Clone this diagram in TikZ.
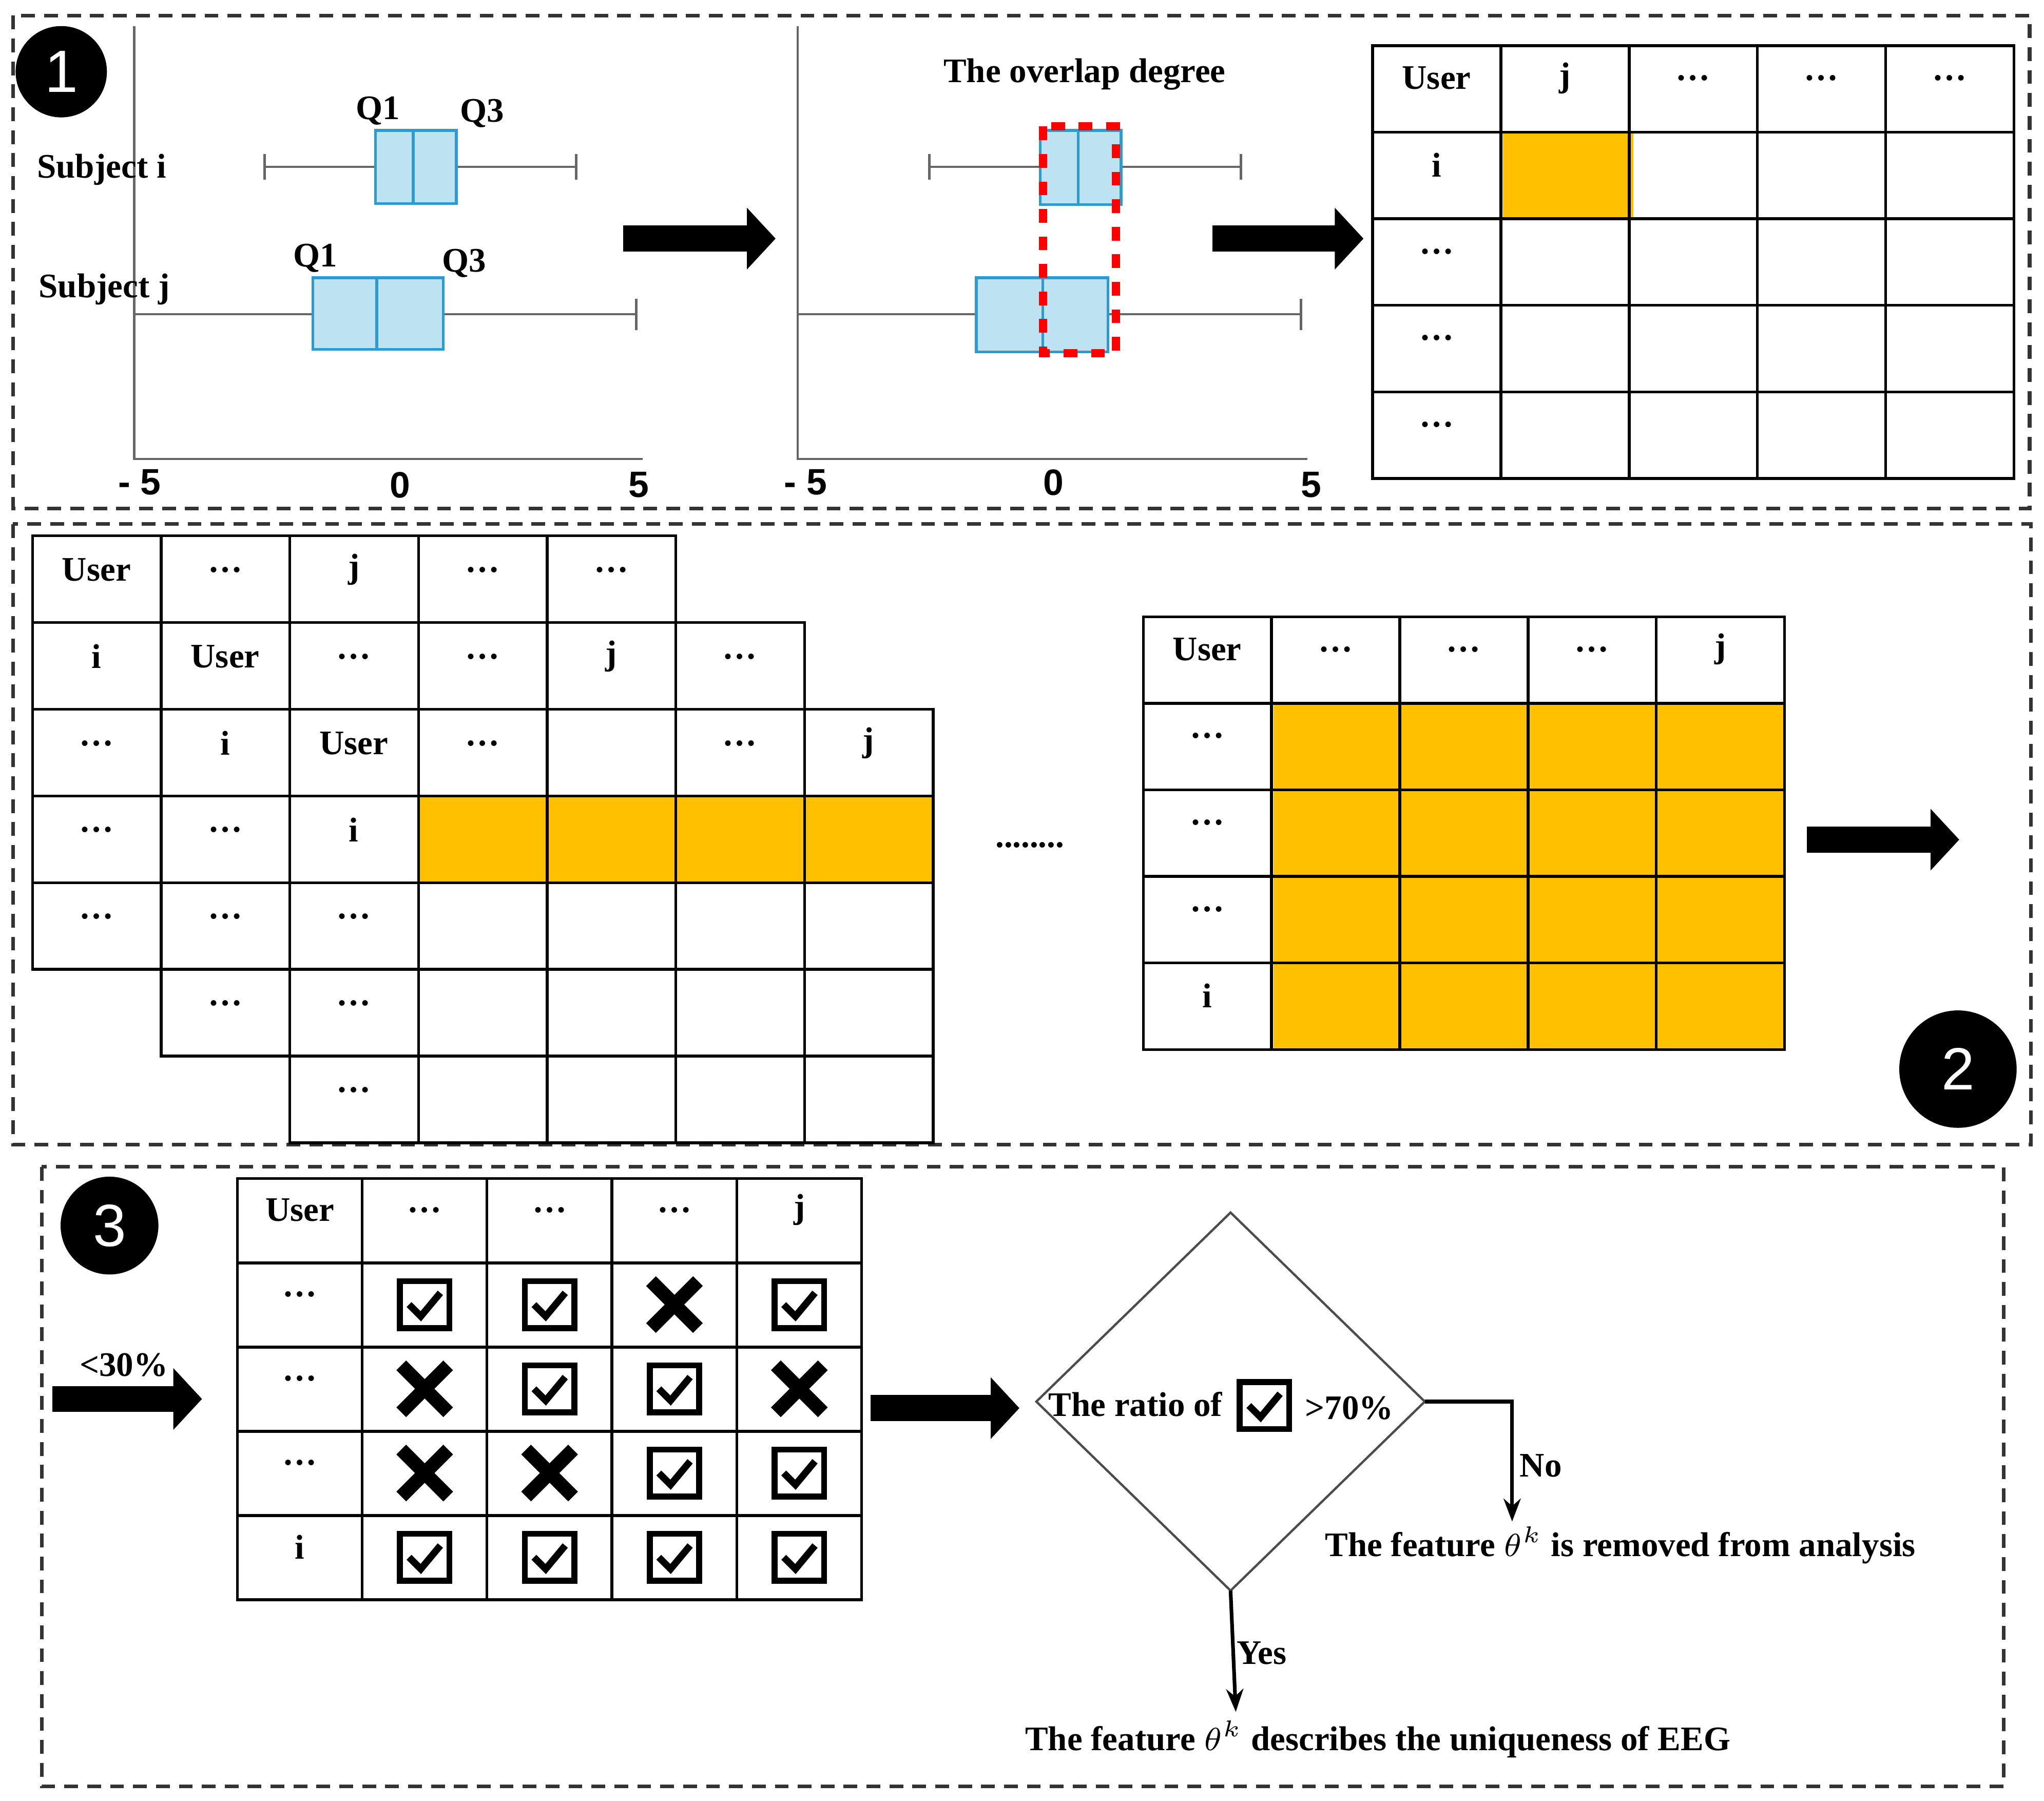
\documentclass[tikz,border=0pt]{standalone}
\usepackage{fontspec}
\setmainfont{Liberation Serif}
\newfontfamily\sansf{Liberation Sans}
\usetikzlibrary{arrows.meta,shapes.geometric}
\definecolor{boxblue}{HTML}{BDE3F2}
\definecolor{boxedge}{HTML}{2E9BD0}
\definecolor{gold}{HTML}{FFC000}
\newcommand\ddd{\ldots}
\tikzset{
  panel/.style={densely dashed, line width=0.8pt, draw=black!80},
  lbl/.style={font=\fontsize{7.5}{9}\selectfont\bfseries, inner sep=1pt},
  num/.style={font=\sansf\fontsize{8}{9}\selectfont\bfseries},
  badge/.style={circle, fill=black, text=white, minimum size=#1, inner sep=0pt, font=\sansf\fontsize{13}{14}\selectfont},
  bigarrow/.style={line width=0.2cm, -{Triangle[length=0.22cm,width=0.46cm]}},
  cell/.style={draw, line width=0.6pt},
  bp/.style={fill=boxblue, draw=boxedge, line width=0.6pt},
  wh/.style={draw=black!60, line width=0.5pt},
  flow/.style={line width=0.8pt, -{Stealth[length=5pt]}},
  checkbox/.pic={
    \draw[line width=1.3pt] (-19,-18) rectangle (19,18);
    \draw[line width=1.5pt] (-12,0) -- (-3,9) -- (12,-9);
  },
  cross/.pic={
    \draw[line width=3pt] (-18,-18) -- (18,18) (-18,18) -- (18,-18);
  }
}
\begin{document}
\begin{tikzpicture}[x=0.01cm, y=-0.01cm]
\useasboundingbox (0,0) rectangle (1568,1381);

% ---------- panel 1
\draw[panel] (10,12) rectangle (1557,390);
\node[badge=0.7cm] (b1) at (47,55) {1};

% left box plot
\draw[wh] (103,20) -- (103,352) -- (493,352);
\node[num] (l5a) at (107,370) {- 5};
\node[num] (l0a) at (307,372) {0};
\node[num] (l5b) at (490,372) {5};
\draw[wh] (203,118) -- (203,138) (203,128) -- (288,128) (350,128) -- (442,128) (442,118) -- (442,138);
\draw[bp] (288,100) rectangle (350,156);
\draw[boxedge, line width=0.6pt] (317,100) -- (317,156);
\draw[wh] (103,241) -- (240,241) (340,241) -- (488,241) (488,229) -- (488,253);
\draw[bp] (240,213) rectangle (340,268);
\draw[boxedge, line width=0.6pt] (289,213) -- (289,268);
\node[lbl] (q1i) at (290,85) {Q1};
\node[lbl] (q3i) at (370,87) {Q3};
\node[lbl] (q1j) at (242,198) {Q1};
\node[lbl] (q3j) at (356,202) {Q3};
\node[lbl] (subi) at (78,130) {Subject i};
\node[lbl] (subj) at (80,222) {Subject j};

\coordinate (a1s) at (478,183);
\coordinate (a1e) at (595,183);
\draw[bigarrow] (a1s) -- (a1e);

% middle box plot
\draw[wh] (612,20) -- (612,352) -- (1003,352);
\node[num] (m5a) at (618,370) {- 5};
\node[num] (m0a) at (808,370) {0};
\node[num] (m5b) at (1006,372) {5};
\node[lbl] (ovl) at (832,57) {The overlap degree};
\draw[wh] (713,118) -- (713,138) (713,128) -- (798,128) (860,128) -- (952,128) (952,118) -- (952,138);
\draw[bp] (798,100) rectangle (860,157);
\draw[boxedge, line width=0.6pt] (827,100) -- (827,157);
\draw[wh] (612,241) -- (749,241) (850,241) -- (998,241) (998,229) -- (998,253);
\draw[bp] (749,213) rectangle (850,270);
\draw[boxedge, line width=0.6pt] (800,213) -- (800,270);
\draw[red, dashed, line width=1.8pt] (800,97) rectangle (856,271);

\coordinate (a2s) at (930,183);
\coordinate (a2e) at (1046,183);
\draw[bigarrow] (a2s) -- (a2e);

% table 1
\fill[gold] (1153,101) rectangle (1253,168);
\foreach \c in {0,...,4}
  \foreach \r in {0,...,4}
    \draw[cell] ({1053+\c*98.4},{35+\r*66.4}) rectangle ++(98.4,66.4);
\foreach \t [count=\c from 0] in {User,j,\ddd,\ddd,\ddd}
  \node[lbl] (th\c) at ({1102+\c*98.4},60) {\t};
\foreach \t [count=\r from 1] in {i,\ddd,\ddd,\ddd}
  \node[lbl] (tv\r) at (1102,{60+\r*66.4}) {\t};

% ---------- panel 2
\draw[panel] (10,402) rectangle (1558,878);
\node[badge=0.9cm] (b2) at (1502,820) {2};

% staircase tables
\fill[gold] (321,610) rectangle (716,677);
\foreach \r/\a/\b in {0/0/4,1/0/5,2/0/6,3/0/6,4/0/6,5/1/6,6/2/6}
  \foreach \c in {\a,...,\b}
    \draw[cell] ({25+\c*98.7},{411+\r*66.5}) rectangle ++(98.7,66.5);
\foreach \c/\r/\t in {0/0/User,1/0/\ddd,2/0/j,3/0/\ddd,4/0/\ddd,
    0/1/i,1/1/User,2/1/\ddd,3/1/\ddd,4/1/j,5/1/\ddd,
    0/2/\ddd,1/2/i,2/2/User,3/2/\ddd,5/2/\ddd,6/2/j,
    0/3/\ddd,1/3/\ddd,2/3/i,
    0/4/\ddd,1/4/\ddd,2/4/\ddd,
    1/5/\ddd,2/5/\ddd,
    2/6/\ddd}
  \node[lbl] at ({74+\c*98.7},{437+\r*66.5}) {\t};
\node[lbl] (gap) at (790,648) {........};

% right table
\fill[gold] (977,539) rectangle (1369,805);
\foreach \c in {0,...,4}
  \foreach \r in {0,...,4}
    \draw[cell] ({877+\c*98.4},{473+\r*66.4}) rectangle ++(98.4,66.4);
\foreach \t [count=\c from 0] in {User,\ddd,\ddd,\ddd,j}
  \node[lbl] (rh\c) at ({926+\c*98.4},498) {\t};
\foreach \t [count=\r from 1] in {\ddd,\ddd,\ddd,i}
  \node[lbl] (rv\r) at (926,{498+\r*66.4}) {\t};

\coordinate (a3s) at (1386,644);
\coordinate (a3e) at (1503,644);
\draw[bigarrow] (a3s) -- (a3e);

% ---------- panel 3
\draw[panel] (32,895) rectangle (1537,1370);
\node[badge=0.75cm] (b3) at (84,940) {3};
\node[lbl] (lt30) at (95,1047) {<30\%};
\coordinate (a4s) at (40,1073);
\coordinate (a4e) at (155,1073);
\draw[bigarrow] (a4s) -- (a4e);

% check table
\foreach \c in {0,...,4}
  \foreach \r in {0,...,4}
    \draw[cell] ({182+\c*95.8},{904+\r*64.6}) rectangle ++(95.8,64.6);
\foreach \t [count=\c from 0] in {User,\ddd,\ddd,\ddd,j}
  \node[lbl] (ch\c) at ({230+\c*95.8},928) {\t};
\foreach \t [count=\r from 1] in {\ddd,\ddd,\ddd,i}
  \node[lbl] (cv\r) at (230,{928+\r*64.6}) {\t};
\foreach \c/\r/\m in {1/1/checkbox,2/1/checkbox,3/1/cross,4/1/checkbox,
    1/2/cross,2/2/checkbox,3/2/checkbox,4/2/cross,
    1/3/cross,2/3/cross,3/3/checkbox,4/3/checkbox,
    1/4/checkbox,2/4/checkbox,3/4/checkbox,4/4/checkbox}
  \pic at ({230+\c*95.8},{936+\r*64.6}) {\m};

\coordinate (a5s) at (668,1080);
\coordinate (a5e) at (782,1080);
\draw[bigarrow] (a5s) -- (a5e);

% decision
\coordinate (dt) at (944,930);
\coordinate (dl) at (795,1075);
\coordinate (dr) at (1093,1075);
\coordinate (db) at (944,1220);
\draw[line width=0.5pt, draw=black!70] (dt) -- (dr) -- (db) -- (dl) -- cycle;
\node[lbl] (ratio) at (871,1077) {The ratio of};
\pic at (970,1078) {checkbox};
\node[lbl] (p70) at (1035,1080) {>70\%};
\node[lbl] (rem) at (1243,1185) {The feature $\theta^k$ is removed from analysis};
\node[lbl] (keep) at (1057,1334) {The feature $\theta^k$ describes the uniqueness of EEG};
\coordinate (nturn) at (1160,1075);
\coordinate (nend) at (1160,1167);
\draw[flow] (dr) -- (nturn) -- (nend);
\node[lbl] (no) at (1182,1124) {No};
\coordinate (yend) at (948,1313);
\draw[flow] (db) -- (yend);
\node[lbl] (yes) at (968,1268) {Yes};
\end{tikzpicture}
\end{document}
